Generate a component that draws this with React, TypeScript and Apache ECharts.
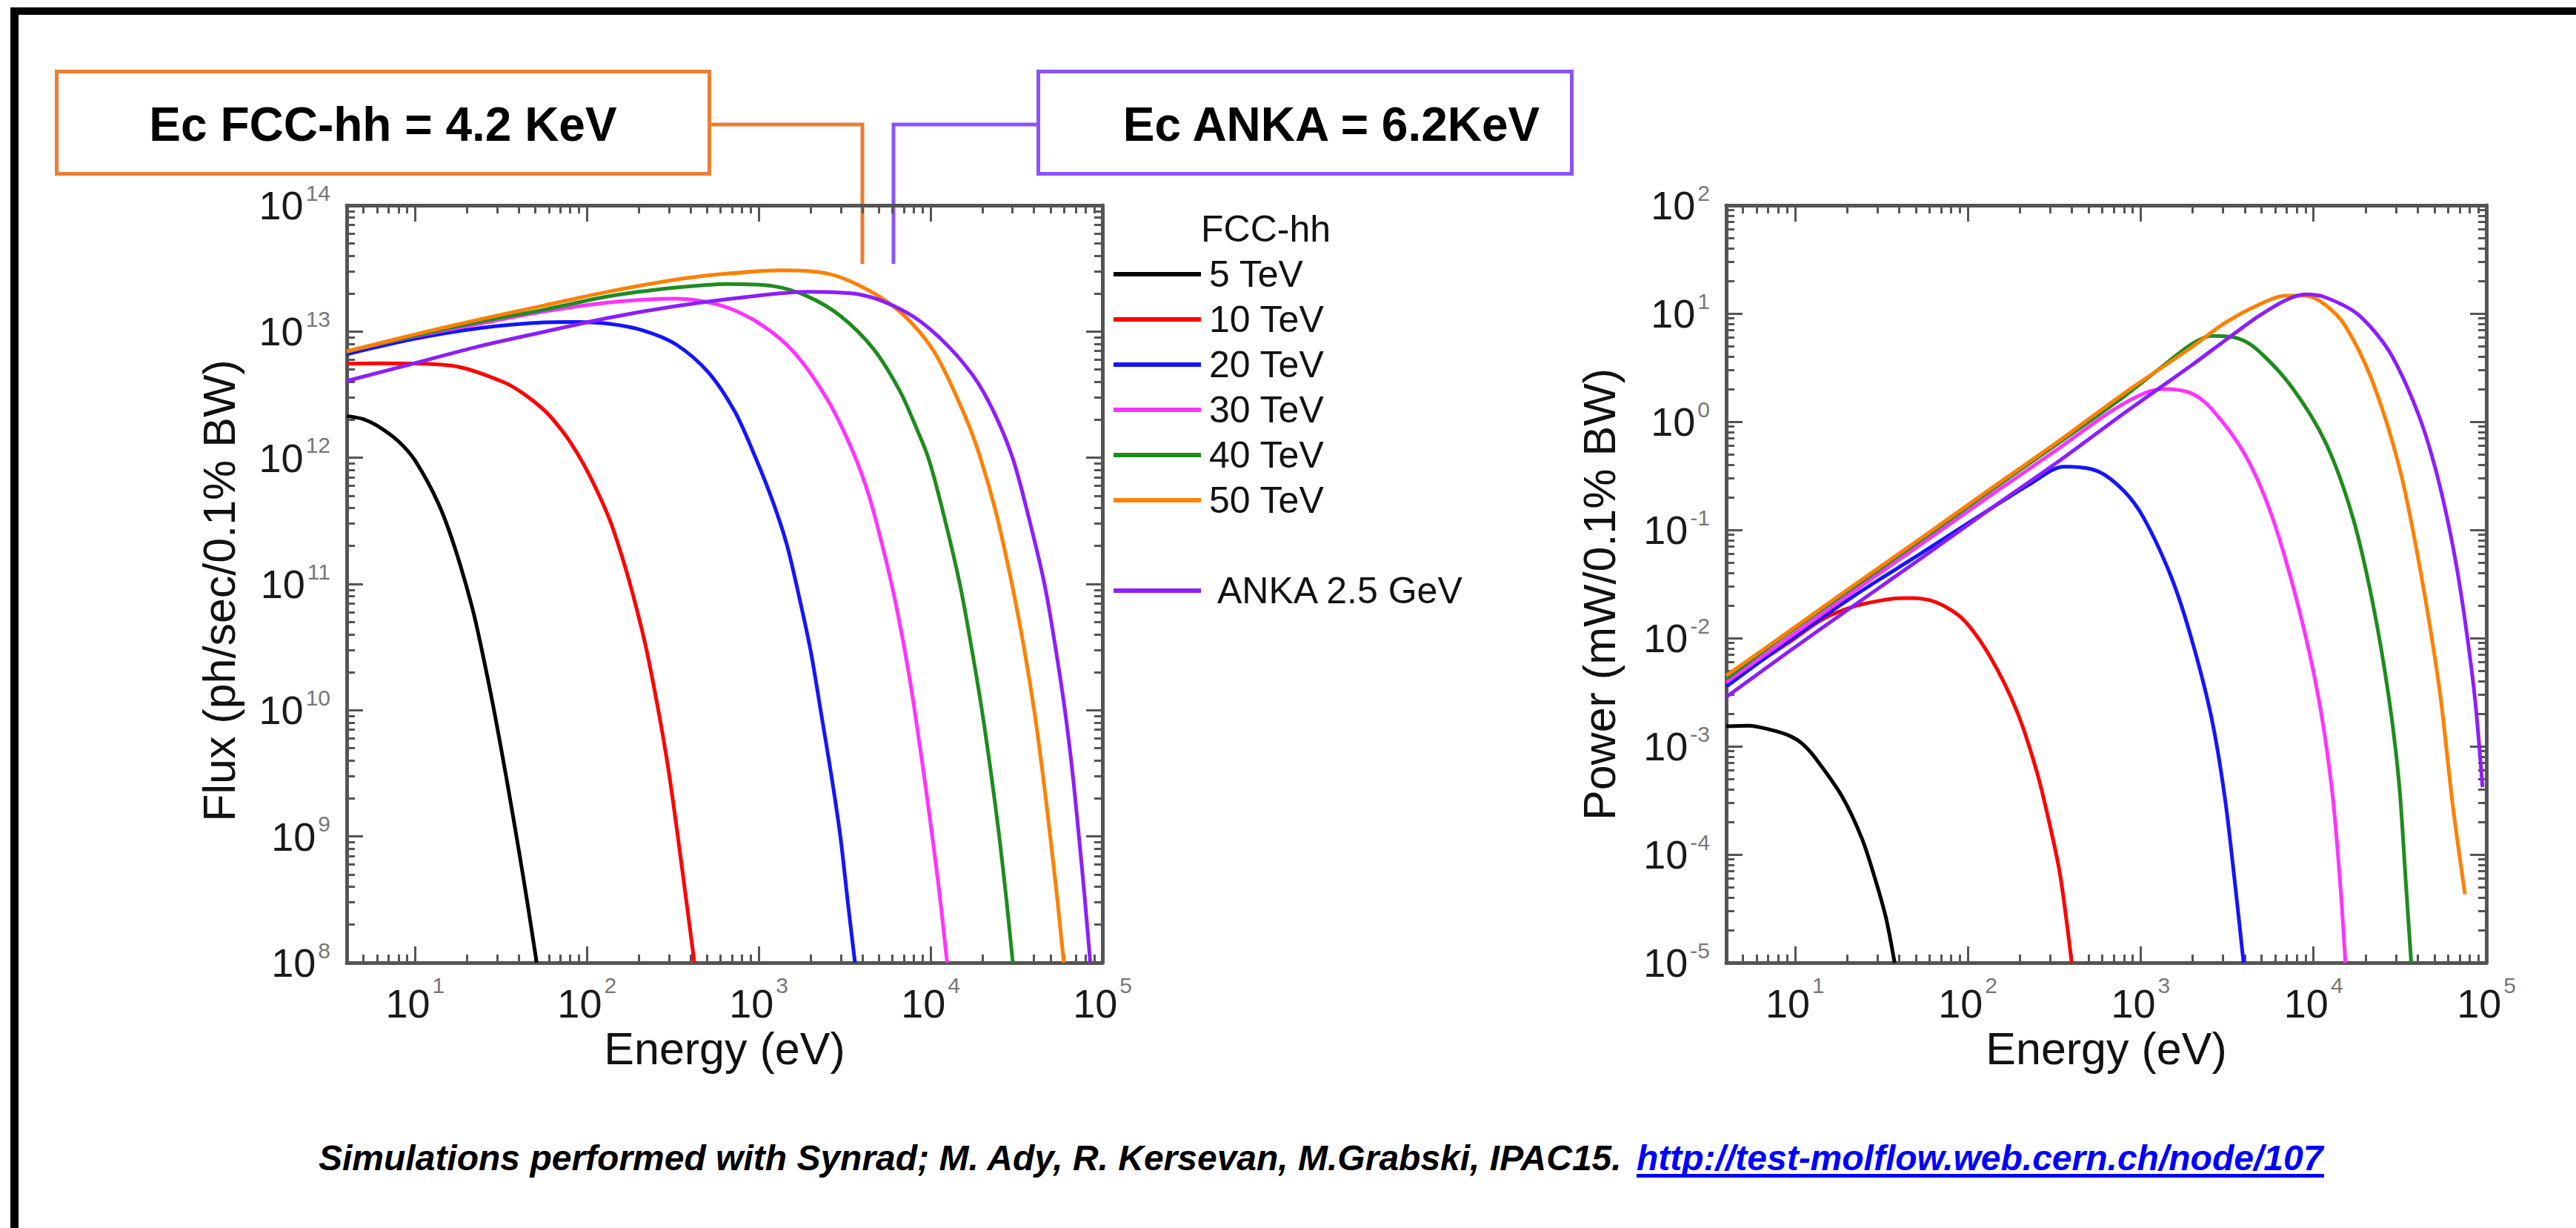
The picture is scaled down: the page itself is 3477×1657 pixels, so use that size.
import React, { useEffect, useRef } from "react";
import * as echarts from "echarts";

const FONT = "'Liberation Sans', Arial, Helvetica, sans-serif";

// ---------- names / labels ----------
const SERIES_NAMES = ["5 TeV", "10 TeV", "20 TeV", "30 TeV", "40 TeV", "50 TeV", "ANKA 2.5 GeV"];
const SERIES_COLORS = ["#000000", "#FF0000", "#1414FF", "#FF33FF", "#1E8C1E", "#FF8000", "#8C1EFF"];
const FCC_NAMES = SERIES_NAMES.slice(0, 6);
const ANKA_NAME = SERIES_NAMES[6];

const ENERGY_RANGE = [4, 1e5];
const FLUX_RANGE = [1e8, 1e14];
const POWER_RANGE = [1e-5, 1e2];
const ENERGY_DECADES = [1, 2, 3, 4, 5];
const FLUX_DECADES = [8, 9, 10, 11, 12, 13, 14];
const POWER_DECADES = [-5, -4, -3, -2, -1, 0, 1, 2];

const ANNOTATION_FCC = "Ec FCC-hh = 4.2 KeV";
const ANNOTATION_ANKA = "Ec ANKA = 6.2KeV";
const FLUX_AXIS_NAME = "Flux (ph/sec/0.1% BW)";
const POWER_AXIS_NAME = "Power (mW/0.1% BW)";
const ENERGY_AXIS_NAME = "Energy (eV)";
const LEGEND_TITLE = "FCC-hh";
const CREDIT_TEXT = "Simulations performed with Synrad; M. Ady, R. Kersevan, M.Grabski, IPAC15. ";
const CREDIT_LINK = "http://test-molflow.web.cern.ch/node/107";

// ---------- flux data: [energy eV, ph/sec/0.1% BW] ----------
const FLUX_5TEV = [[4, 2.14e12], [5, 2.02e12], [6.2, 1.75e12], [8, 1.35e12], [10, 9.5e11], [13.7, 4.3e11], [17, 1.95e11], [21.5, 6.5e10], [25, 2.6e10], [29, 9.5e9], [34, 2.9e9], [40, 8e8], [45, 3e8], [51, 1e8]];
const FLUX_10TEV = [[4, 5.56e12], [6.2, 5.6e12], [9.7, 5.58e12], [17.9, 5.25e12], [33, 3.95e12], [43, 3.2e12], [56, 2.4e12], [67, 1.84e12], [80, 1.33e12], [96, 8.8e11], [115, 5.4e11], [136, 3.2e11], [160, 1.65e11], [185, 8.3e10], [220, 3.2e10], [264, 9e9], [300, 3.2e9], [338, 1e9], [380, 3e8], [422, 1e8]];
const FLUX_20TEV = [[4, 6.6e12], [9.7, 8.7e12], [23.3, 1.06e13], [56.4, 1.18e13], [88, 1.19e13], [136, 1.15e13], [212, 1.02e13], [330, 7.9e12], [512, 4.7e12], [728, 2.3e12], [944, 1.05e12], [1200, 4.6e11], [1450, 2.1e11], [1682, 9e10], [2000, 3e10], [2291, 1e10], [2640, 3.1e9], [2985, 1e9], [3300, 3e8], [3630, 1e8]];
const FLUX_30TEV = [[4, 6.95e12], [9.7, 9.1e12], [23.3, 1.15e13], [56.4, 1.44e13], [136, 1.7e13], [330, 1.82e13], [611, 1.6e13], [1038, 1.13e13], [1611, 6.8e12], [2506, 2.9e12], [3500, 1.15e12], [4400, 4.9e11], [5530, 1.5e11], [6500, 5.5e10], [7546, 1.8e10], [8700, 5e9], [9835, 1.5e9], [11200, 3.8e8], [12480, 1e8]];
const FLUX_40TEV = [[4, 6.95e12], [9.7, 9.2e12], [23.3, 1.19e13], [56.4, 1.49e13], [136, 1.91e13], [330, 2.23e13], [667, 2.38e13], [1236, 2.28e13], [1923, 1.9e13], [2985, 1.33e13], [4645, 7.3e12], [6610, 3.4e12], [8300, 1.7e12], [9700, 1e12], [11500, 4.3e11], [14800, 1e11], [17400, 3e10], [19900, 1e10], [22600, 3e9], [25100, 1e9], [27600, 3.2e8], [30100, 1e8]];
const FLUX_50TEV = [[4, 6.95e12], [9.7, 9.4e12], [23.3, 1.24e13], [56.4, 1.61e13], [136, 2.08e13], [330, 2.58e13], [667, 2.88e13], [1352, 3.05e13], [2506, 2.88e13], [3890, 2.3e13], [6050, 1.59e13], [8610, 9.95e12], [11220, 5.9e12], [15960, 2.1e12], [19400, 1.02e12], [24000, 3.7e11], [29600, 1.03e11], [35000, 3.1e10], [40300, 9.5e9], [45000, 3.1e9], [49700, 1e9], [54500, 3.3e8], [59600, 1e8]];
const FLUX_ANKA = [[4, 4.06e12], [9.7, 5.56e12], [23.3, 7.6e12], [56.4, 9.95e12], [136, 1.29e13], [330, 1.59e13], [796, 1.86e13], [1923, 2.06e13], [3890, 1.96e13], [7210, 1.42e13], [11220, 9e12], [17400, 4.6e12], [23000, 2.4e12], [30000, 1e12], [37000, 3.5e11], [46000, 1e11], [53000, 3.3e10], [60500, 1e10], [67000, 3.2e9], [73000, 1e9], [79000, 3.2e8], [85000, 1e8]];

// ---------- power data: [energy eV, mW/0.1% BW] ----------
const POWER_5TEV = [[4, 1.53e-3], [5.4, 1.55e-3], [7, 1.44e-3], [9.2, 1.26e-3], [11, 1.06e-3], [13.1, 7.8e-4], [18.8, 3.4e-4], [24.5, 1.38e-4], [29.4, 5.6e-5], [33.6, 2.6e-5], [37.7, 1e-5]];
const POWER_10TEV = [[4, 3.8e-3], [9.2, 9.1e-3], [14.4, 0.0149], [22.4, 0.0198], [35.1, 0.0229], [45.9, 0.0234], [65.6, 0.0214], [93.8, 0.0149], [134, 0.0068], [192, 2.12e-3], [251, 5.77e-4], [300, 1.79e-4], [343, 6.3e-5], [399, 1e-5]];
const POWER_20TEV = [[4, 3.56e-3], [9.2, 9.44e-3], [22.4, 0.0251], [54.9, 0.0622], [134, 0.155], [230, 0.267], [359, 0.384], [561, 0.35], [802, 0.228], [1047, 0.127], [1499, 0.037], [1959, 0.0101], [2565, 1.86e-3], [3064, 3.43e-4], [3505, 5.56e-5], [3938, 1e-5]];
const POWER_30TEV = [[4, 3.9e-3], [9.2, 0.0101], [22.4, 0.0278], [54.9, 0.0755], [134, 0.206], [328, 0.552], [670, 1.24], [1047, 1.83], [1371, 2.0], [1959, 1.83], [2565, 1.32], [4010, 0.498], [5728, 0.136], [8192, 0.0193], [10715, 2.75e-3], [12800, 3.91e-4], [14250, 5.56e-5], [15300, 1e-5]];
const POWER_40TEV = [[4, 4.2e-3], [9.2, 0.0112], [22.4, 0.0304], [54.9, 0.0828], [134, 0.228], [328, 0.621], [802, 1.71], [1253, 2.99], [1959, 5.16], [2565, 6.2], [3664, 5.88], [4791, 4.53], [7495, 2.08], [11720, 0.645], [16750, 0.136], [21900, 0.022], [27350, 2.75e-3], [31300, 4.45e-4], [34200, 5.56e-5], [36750, 1e-5]];
const POWER_50TEV = [[4, 4.5e-3], [9.2, 0.0115], [22.4, 0.0316], [54.9, 0.0861], [134, 0.237], [328, 0.645], [802, 1.83], [1959, 4.84], [3064, 8.15], [4791, 12.0], [6852, 14.6], [8954, 14.6], [11720, 12.0], [15300, 7.63], [21900, 2.37], [31300, 0.384], [40900, 0.048], [53500, 3.4e-3], [64000, 2.8e-4], [75200, 4.3e-5]];
const POWER_ANKA = [[4, 2.85e-3], [9.2, 7.5e-3], [22.4, 0.0205], [54.9, 0.056], [134, 0.155], [328, 0.42], [802, 1.2], [1959, 3.3], [3064, 5.6], [4791, 9.4], [6852, 13.2], [8954, 15.0], [11720, 14.1], [18320, 9.64], [28620, 3.98], [44740, 0.735], [64000, 0.0708], [83700, 4.0e-3], [95000, 4.2e-4]];

const FLUX_SERIES = [FLUX_5TEV, FLUX_10TEV, FLUX_20TEV, FLUX_30TEV, FLUX_40TEV, FLUX_50TEV, FLUX_ANKA];
const POWER_SERIES = [POWER_5TEV, POWER_10TEV, POWER_20TEV, POWER_30TEV, POWER_40TEV, POWER_50TEV, POWER_ANKA];

// ---------- layout ----------
const W = 3477;
const H = 1657;
const LEFT_GRID = { left: 468, top: 277, width: 1020, height: 1022 };
const RIGHT_GRID = { left: 2330, top: 277, width: 1026, height: 1022 };
const AXIS_COLOR = "#555555";
const ORANGE = "#ED7D31";
const PURPLE = "#8C52FF";

const lg = (v: number) => Math.log10(v);
const toLog = (pts: number[][]) => pts.map(([e, v]) => [lg(e), lg(v)]);

function minorTicks(lo: number, hi: number) {
  const out: number[] = [];
  for (let n = Math.floor(lo); n < Math.ceil(hi); n++) {
    for (let k = 2; k <= 9; k++) {
      const v = n + Math.log10(k);
      if (v > lo + 1e-9 && v < hi - 1e-9) out.push(v);
    }
  }
  return out;
}

function labelRich(lineH: number) {
  return {
    b: { fontFamily: FONT, fontSize: 54, lineHeight: lineH, color: "#1a1a1a" },
    s: { fontFamily: FONT, fontSize: 30, lineHeight: 30, verticalAlign: "top", color: "#777777", padding: [0, 0, 0, 3] },
  };
}

function axisSet(dim: "x" | "y", gridIndex: number, range: number[], decades: number[]) {
  const lo = lg(range[0]);
  const hi = lg(range[1]);
  const minors = minorTicks(lo, hi);
  const sides = dim === "x" ? ["bottom", "top"] : ["left", "right"];
  const mk = (position: string, major: boolean, withLabel: boolean, withLine: boolean) => ({
    type: "value",
    gridIndex,
    position,
    min: lo,
    max: hi,
    splitLine: { show: false },
    axisLine: { show: withLine, onZero: false, lineStyle: { color: AXIS_COLOR, width: 5 } },
    axisTick: {
      show: true,
      inside: true,
      length: major ? 22 : 11,
      customValues: major ? decades : minors,
      lineStyle: { color: AXIS_COLOR, width: 3 },
    },
    axisLabel: withLabel
      ? {
          show: true,
          customValues: decades,
          margin: dim === "x" ? 15 : 22,
          formatter: (v: number) => `{b|10}{s|${Math.round(v)}}`,
          rich: labelRich(dim === "x" ? 80 : 64),
        }
      : { show: false },
  });
  return [
    mk(sides[0], true, true, true),
    mk(sides[0], false, false, false),
    mk(sides[1], true, false, true),
    mk(sides[1], false, false, false),
  ];
}

function buildSeries(data: number[][][], xi: number, yi: number) {
  return data.map((pts, i) => ({
    type: "line",
    name: SERIES_NAMES[i],
    xAxisIndex: xi,
    yAxisIndex: yi,
    data: toLog(pts),
    showSymbol: false,
    symbol: "none",
    smooth: 0.3,
    clip: true,
    lineStyle: { color: SERIES_COLORS[i], width: 5 },
    itemStyle: { color: SERIES_COLORS[i] },
    emphasis: { disabled: true },
    z: 3 + i,
  }));
}

const txt = (x: number, y: number, text: string, extra: any = {}, rotation = 0) => ({
  type: "text",
  x,
  y,
  rotation,
  silent: true,
  style: {
    text,
    fill: "#111111",
    fontFamily: FONT,
    fontSize: 61,
    align: "center",
    verticalAlign: "middle",
    ...extra,
  },
});

function buildOption() {
  const legendText = { fontFamily: FONT, fontSize: 50, lineHeight: 50, color: "#111111" };
  return {
    animation: false,
    backgroundColor: "#ffffff",
    grid: [
      { ...LEFT_GRID, containLabel: false, outerBoundsMode: "none" },
      { ...RIGHT_GRID, containLabel: false, outerBoundsMode: "none" },
    ],
    xAxis: [...axisSet("x", 0, ENERGY_RANGE, ENERGY_DECADES), ...axisSet("x", 1, ENERGY_RANGE, ENERGY_DECADES)],
    yAxis: [...axisSet("y", 0, FLUX_RANGE, FLUX_DECADES), ...axisSet("y", 1, POWER_RANGE, POWER_DECADES)],
    legend: [
      {
        data: FCC_NAMES,
        orient: "vertical",
        left: 1503,
        top: 345,
        padding: 0,
        itemWidth: 118,
        itemHeight: 6,
        itemGap: 11,
        icon: "rect",
        selectedMode: false,
        textStyle: { ...legendText, padding: [0, 0, 0, 6] },
      },
      {
        data: [ANKA_NAME],
        orient: "vertical",
        left: 1503,
        top: 772,
        padding: 0,
        itemWidth: 118,
        itemHeight: 6,
        icon: "rect",
        selectedMode: false,
        textStyle: { ...legendText, padding: [0, 0, 0, 17] },
      },
    ],
    series: [...buildSeries(FLUX_SERIES, 0, 0), ...buildSeries(POWER_SERIES, 4, 4)],
    graphic: [
      { type: "rect", silent: true, shape: { x: 14, y: 10, width: W - 14, height: 10 }, style: { fill: "#000000" } },
      { type: "rect", silent: true, shape: { x: 14, y: 10, width: 11, height: H - 10 }, style: { fill: "#000000" } },
      // annotation boxes
      { type: "rect", silent: true, shape: { x: 76.5, y: 96.5, width: 881, height: 138 }, style: { fill: "#ffffff", stroke: ORANGE, lineWidth: 5 } },
      txt(517, 168, ANNOTATION_FCC, { fontSize: 64, fontWeight: "bold", fill: "#000000" }),
      { type: "polyline", silent: true, shape: { points: [[960, 168], [1164, 168], [1164, 356]] }, style: { fill: null, stroke: ORANGE, lineWidth: 5 } },
      { type: "rect", silent: true, shape: { x: 1401.5, y: 96.5, width: 720, height: 138 }, style: { fill: "#ffffff", stroke: PURPLE, lineWidth: 5 } },
      txt(1797, 168, ANNOTATION_ANKA, { fontSize: 64, fontWeight: "bold", fill: "#000000" }),
      { type: "polyline", silent: true, shape: { points: [[1399, 168], [1206, 168], [1206, 356]] }, style: { fill: null, stroke: PURPLE, lineWidth: 5 } },
      // legend title
      txt(1621, 309, LEGEND_TITLE, { fontSize: 50, align: "left" }),
      // axis names
      txt(296, 797, FLUX_AXIS_NAME, {}, Math.PI / 2),
      txt(2159, 802, POWER_AXIS_NAME, {}, Math.PI / 2),
      txt(978, 1415, ENERGY_AXIS_NAME),
      txt(2843, 1415, ENERGY_AXIS_NAME),
      // credit line
      txt(430, 1562, CREDIT_TEXT, { fontSize: 48, fontWeight: "bold", fontStyle: "italic", align: "left", fill: "#000000" }),
      txt(2209, 1562, CREDIT_LINK, { fontSize: 48, fontWeight: "bold", fontStyle: "italic", align: "left", fill: "#0000FF" }),
      { type: "rect", silent: true, shape: { x: 2209, y: 1584, width: 928, height: 5 }, style: { fill: "#0000FF" } },
    ],
  };
}

export default function App() {
  const ref = useRef<HTMLDivElement>(null);
  useEffect(() => {
    if (!ref.current) return;
    const chart = echarts.init(ref.current, null, { renderer: "svg" });
    chart.setOption(buildOption() as any);
    return () => chart.dispose();
  }, []);
  return (
    <div
      ref={ref}
      style={{ position: "fixed", left: 0, top: 0, width: W, height: H, background: "#ffffff" }}
    />
  );
}
